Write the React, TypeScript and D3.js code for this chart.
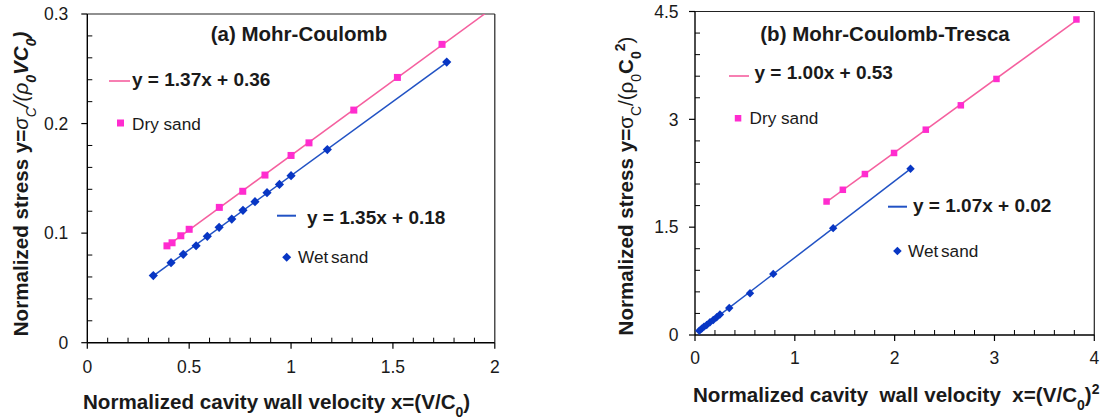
import React from 'react';
import * as d3 from 'd3';

// ---------- Data ----------
// Panel (a) Mohr-Coulomb
const dryA_x = [0.391, 0.416, 0.459, 0.5, 0.648, 0.763, 0.872, 1.0, 1.088, 1.308, 1.522, 1.741];
const dryA_y = [0.0884, 0.0912, 0.0976, 0.1035, 0.1235, 0.1382, 0.153, 0.1709, 0.1824, 0.2123, 0.2421, 0.2723];
const wetA_x = [0.324, 0.411, 0.471, 0.534, 0.589, 0.647, 0.709, 0.764, 0.823, 0.882, 0.943, 1.0, 1.178, 1.764];
const wetA_y = [0.0613, 0.073, 0.0807, 0.0885, 0.0971, 0.1053, 0.1128, 0.1208, 0.1287, 0.1369, 0.1445, 0.1524, 0.1763, 0.2561];
// Panel (b) Mohr-Coulomb-Tresca
const dryB_x = [1.318, 1.481, 1.702, 1.994, 2.312, 2.663, 3.02, 3.821];
const dryB_y = [1.857, 2.02, 2.239, 2.532, 2.856, 3.195, 3.562, 4.389];
const wetB_x = [0.043, 0.067, 0.09, 0.117, 0.15, 0.183, 0.217, 0.25, 0.343, 0.551, 0.784, 1.384, 2.159];
const wetB_y = [0.06, 0.088, 0.116, 0.139, 0.177, 0.209, 0.247, 0.285, 0.376, 0.581, 0.85, 1.486, 2.313];

const xTicksA = [0, 0.5, 1, 1.5, 2];
const yTicksA = [0, 0.1, 0.2, 0.3];
const xTicksB = [0, 1, 2, 3, 4];
const yTicksB = [0, 1.5, 3, 4.5];

const xLabelsA = ['0', '0.5', '1', '1.5', '2'];
const yLabelsA = ['0', '0.1', '0.2', '0.3'];
const xLabelsB = ['0', '1', '2', '3', '4'];
const yLabelsB = ['0', '1.5', '3', '4.5'];

const eqDryA = 'y = 1.37x + 0.36';
const eqWetA = 'y = 1.35x + 0.18';
const eqDryB = 'y = 1.00x + 0.53';
const eqWetB = 'y = 1.07x + 0.02';

// ---------- Styles ----------
const FONT = '"Liberation Sans", Arial, sans-serif';
const PINK_M = '#ff2ccf';
const PINK_L = '#f5609f';
const BLUE_M = '#0836c4';
const BLUE_L = '#2152c4';
const TXT = '#1a1a1a';

function fit(xs: number[], ys: number[]) {
  const mx = d3.mean(xs)!;
  const my = d3.mean(ys)!;
  let num = 0, den = 0;
  xs.forEach((x, i) => { num += (x - mx) * (ys[i] - my); den += (x - mx) * (x - mx); });
  const m = num / den;
  return { m, b: my - m * mx };
}

type PanelProps = {
  id: string;
  x: d3.ScaleLinear<number, number>;
  y: d3.ScaleLinear<number, number>;
  xTicks: number[]; yTicks: number[];
  xLabels: string[]; yLabels: string[];
  xMinor: number[]; yMinor: number[];
  dry: [number[], number[]];
  wet: [number[], number[]];
  dryExtendTo?: number;
  sq: number; dr: number;
  labelOffX: number; labelOffY: number;
};

function Panel(p: PanelProps) {
  const [x0, x1] = p.x.range();
  const [y0, y1] = p.y.range(); // y0 bottom, y1 top
  const fd = fit(p.dry[0], p.dry[1]);
  const fw = fit(p.wet[0], p.wet[1]);
  const dMin = d3.min(p.dry[0])!;
  const dMax = p.dryExtendTo ?? d3.max(p.dry[0])!;
  const wMin = d3.min(p.wet[0])!;
  const wMax = d3.max(p.wet[0])!;
  const diamond = (r: number) => `M0,${-r}L${r},0L0,${r}L${-r},0Z`;
  return (
    <g>
      <defs>
        <clipPath id={p.id}>
          <rect x={x0} y={y1} width={x1 - x0} height={y0 - y1} />
        </clipPath>
      </defs>
      {/* frame */}
      <line x1={x0} y1={y1} x2={x1} y2={y1} stroke="#222" strokeWidth={1.2} />
      <line x1={x1} y1={y1} x2={x1} y2={y0} stroke="#222" strokeWidth={1.2} />
      <line x1={x0} y1={y0} x2={x1} y2={y0} stroke="#000" strokeWidth={1.4} />
      <line x1={x0} y1={y0} x2={x0} y2={y1} stroke="#000" strokeWidth={1.4} />
      {/* minor ticks (inside) */}
      {p.xMinor.map((v, i) => (
        <line key={'xm' + i} x1={p.x(v)} x2={p.x(v)} y1={y0} y2={y0 - 5} stroke="#000" strokeWidth={1} />
      ))}
      {p.yMinor.map((v, i) => (
        <line key={'ym' + i} x1={x0} x2={x0 + 5} y1={p.y(v)} y2={p.y(v)} stroke="#000" strokeWidth={1} />
      ))}
      {/* major ticks (outside) */}
      {p.xTicks.map((v, i) => (
        <line key={'xt' + i} x1={p.x(v)} x2={p.x(v)} y1={y0} y2={y0 + 6} stroke="#000" strokeWidth={1.2} />
      ))}
      {p.yTicks.map((v, i) => (
        <line key={'yt' + i} x1={x0 - 6} x2={x0} y1={p.y(v)} y2={p.y(v)} stroke="#000" strokeWidth={1.2} />
      ))}
      {/* tick labels */}
      {p.xTicks.map((v, i) => (
        <text key={'xl' + i} x={p.x(v)} y={y0 + p.labelOffY} textAnchor="middle" fontSize={17.5} fill={TXT} fontFamily={FONT}>
          {p.xLabels[i]}
        </text>
      ))}
      {p.yTicks.map((v, i) => (
        <text key={'yl' + i} x={x0 - p.labelOffX} y={p.y(v) + 6.3} textAnchor="end" fontSize={17.5} fill={TXT} fontFamily={FONT}>
          {p.yLabels[i]}
        </text>
      ))}
      {/* trend lines */}
      <g clipPath={`url(#${p.id})`}>
        <line x1={p.x(dMin)} y1={p.y(fd.m * dMin + fd.b)} x2={p.x(dMax)} y2={p.y(fd.m * dMax + fd.b)} stroke={PINK_L} strokeWidth={1.5} />
        <line x1={p.x(wMin)} y1={p.y(fw.m * wMin + fw.b)} x2={p.x(wMax)} y2={p.y(fw.m * wMax + fw.b)} stroke={BLUE_L} strokeWidth={1.5} />
      </g>
      {/* markers */}
      {p.dry[0].map((v, i) => (
        <rect key={'d' + i} x={p.x(v) - p.sq / 2} y={p.y(p.dry[1][i]) - p.sq / 2} width={p.sq} height={p.sq} fill={PINK_M} />
      ))}
      {p.wet[0].map((v, i) => (
        <path key={'w' + i} d={diamond(p.dr)} transform={`translate(${p.x(v)},${p.y(p.wet[1][i])})`} fill={BLUE_M} />
      ))}
    </g>
  );
}

export default function App() {
  const xA = d3.scaleLinear().domain([0, 2]).range([87.3, 494.8]);
  const yA = d3.scaleLinear().domain([0, 0.3]).range([342.7, 14]);
  const xB = d3.scaleLinear().domain([0, 4]).range([695, 1094.3]);
  const yB = d3.scaleLinear().domain([0, 4.5]).range([335, 11.5]);

  const minor = (lo: number, hi: number, step: number, majors: number[]) =>
    d3.range(lo, hi + step / 2, step).filter((v) => !majors.some((m) => Math.abs(m - v) < 1e-9));

  const sub = { baselineShift: 'sub' } as React.CSSProperties;
  const sup = { baselineShift: 'super' } as React.CSSProperties;

  return (
    <svg width={1103} height={419} style={{ position: 'absolute', left: 0, top: 0, background: '#fff' }} fontFamily={FONT}>
      <rect x={0} y={0} width={1103} height={419} fill="#fff" />

      {/* ---------- Panel (a) ---------- */}
      <Panel id="clipA" x={xA} y={yA} xTicks={xTicksA} yTicks={yTicksA} xLabels={xLabelsA} yLabels={yLabelsA}
        xMinor={minor(0, 2, 0.1, xTicksA)} yMinor={minor(0, 0.3, 0.02, yTicksA)}
        dry={[dryA_x, dryA_y]} wet={[wetA_x, wetA_y]} dryExtendTo={2} sq={7} dr={4.6}
        labelOffX={19} labelOffY={30} />
      <text x={299} y={40.5} textAnchor="middle" fontWeight="bold" fontSize={20.5} fill={TXT}>(a) Mohr-Coulomb</text>
      <line x1={109} x2={130} y1={81} y2={81} stroke={PINK_L} strokeWidth={1.6} />
      <text x={132} y={85.7} fontWeight="bold" fontSize={19} fill={TXT}>{eqDryA}</text>
      <rect x={117} y={119.5} width={7} height={7} fill={PINK_M} />
      <text x={132} y={130} fontSize={17.2} fill={TXT}>Dry sand</text>
      <line x1={277} x2={296} y1={215.7} y2={215.7} stroke={BLUE_L} strokeWidth={2} />
      <text x={307} y={224} fontWeight="bold" fontSize={19} fill={TXT}>{eqWetA}</text>
      <path d="M0,-4.5L4.5,0L0,4.5L-4.5,0Z" transform="translate(286.7,257.3)" fill={BLUE_M} />
      <text x={298} y={262.7} fontSize={17.2} fill={TXT} style={{ wordSpacing: '-2px' }}>Wet sand</text>

      <text x={83} y={409} fontWeight="bold" fontSize={20.6} fill={TXT}>
        Normalized cavity wall velocity x=(V/C<tspan fontSize={14} style={sub}>0</tspan>)
      </text>
      <text transform="translate(27.5,184) rotate(-90)" textAnchor="middle" fontWeight="bold" fontSize={20.6} fill={TXT}>
        Normalized stress y=
        <tspan fontStyle="italic" fontWeight="normal">σ</tspan>
        <tspan fontStyle="italic" fontWeight="normal" fontSize={14} style={sub}>C</tspan>
        <tspan fontStyle="italic" fontWeight="normal">/(ρ</tspan>
        <tspan fontStyle="italic" fontSize={14} style={sub}>0</tspan>
        <tspan fontStyle="italic">VC</tspan>
        <tspan fontStyle="italic" fontSize={14} style={sub}>0</tspan>
        <tspan fontStyle="italic">)</tspan>
      </text>

      {/* ---------- Panel (b) ---------- */}
      <Panel id="clipB" x={xB} y={yB} xTicks={xTicksB} yTicks={yTicksB} xLabels={xLabelsB} yLabels={yLabelsB}
        xMinor={minor(0, 4, 0.2, xTicksB)} yMinor={minor(0, 4.5, 0.3, yTicksB)}
        dry={[dryB_x, dryB_y]} wet={[wetB_x, wetB_y]} sq={6.5} dr={4.2}
        labelOffX={16.5} labelOffY={28.5} />
      <text x={885} y={40.7} textAnchor="middle" fontWeight="bold" fontSize={20.5} fill={TXT}>(b) Mohr-Coulomb-Tresca</text>
      <line x1={729} x2={749} y1={76} y2={76} stroke={PINK_L} strokeWidth={1.6} />
      <text x={754.5} y={79.3} fontWeight="bold" fontSize={19} fill={TXT}>{eqDryB}</text>
      <rect x={734.8} y={115} width={6.5} height={6.5} fill={PINK_M} />
      <text x={749.5} y={124} fontSize={17.2} fill={TXT}>Dry sand</text>
      <line x1={888} x2={907} y1={206.7} y2={206.7} stroke={BLUE_L} strokeWidth={2} />
      <text x={913} y={211.7} fontWeight="bold" fontSize={19} fill={TXT}>{eqWetB}</text>
      <path d="M0,-4.3L4.3,0L0,4.3L-4.3,0Z" transform="translate(897.4,251)" fill={BLUE_M} />
      <text x={908} y={257.3} fontSize={17.2} fill={TXT} style={{ wordSpacing: '-2px' }}>Wet sand</text>

      <text x={693} y={401.7} fontWeight="bold" fontSize={20.6} fill={TXT} style={{ whiteSpace: 'pre' }}>
        {'Normalized cavity  wall velocity  x=(V/C'}<tspan fontSize={14} style={sub}>0</tspan>
        <tspan>)</tspan><tspan fontSize={14} style={sup}>2</tspan>
      </text>
      <text transform="translate(633,186) rotate(-90)" textAnchor="middle" fontWeight="bold" fontSize={20.6} fill={TXT}>
        Normalized stress y=
        <tspan fontWeight="normal">σ</tspan>
        <tspan fontWeight="normal" fontSize={14} style={sub}>C</tspan>
        <tspan fontWeight="normal">/(ρ</tspan>
        <tspan fontWeight="normal" fontSize={14} style={sub}>0</tspan>
        <tspan>C</tspan>
        <tspan fontSize={14} style={sub}>0</tspan>
        <tspan fontSize={14} style={sup}>2</tspan>
        <tspan fontWeight="normal">)</tspan>
      </text>
    </svg>
  );
}
